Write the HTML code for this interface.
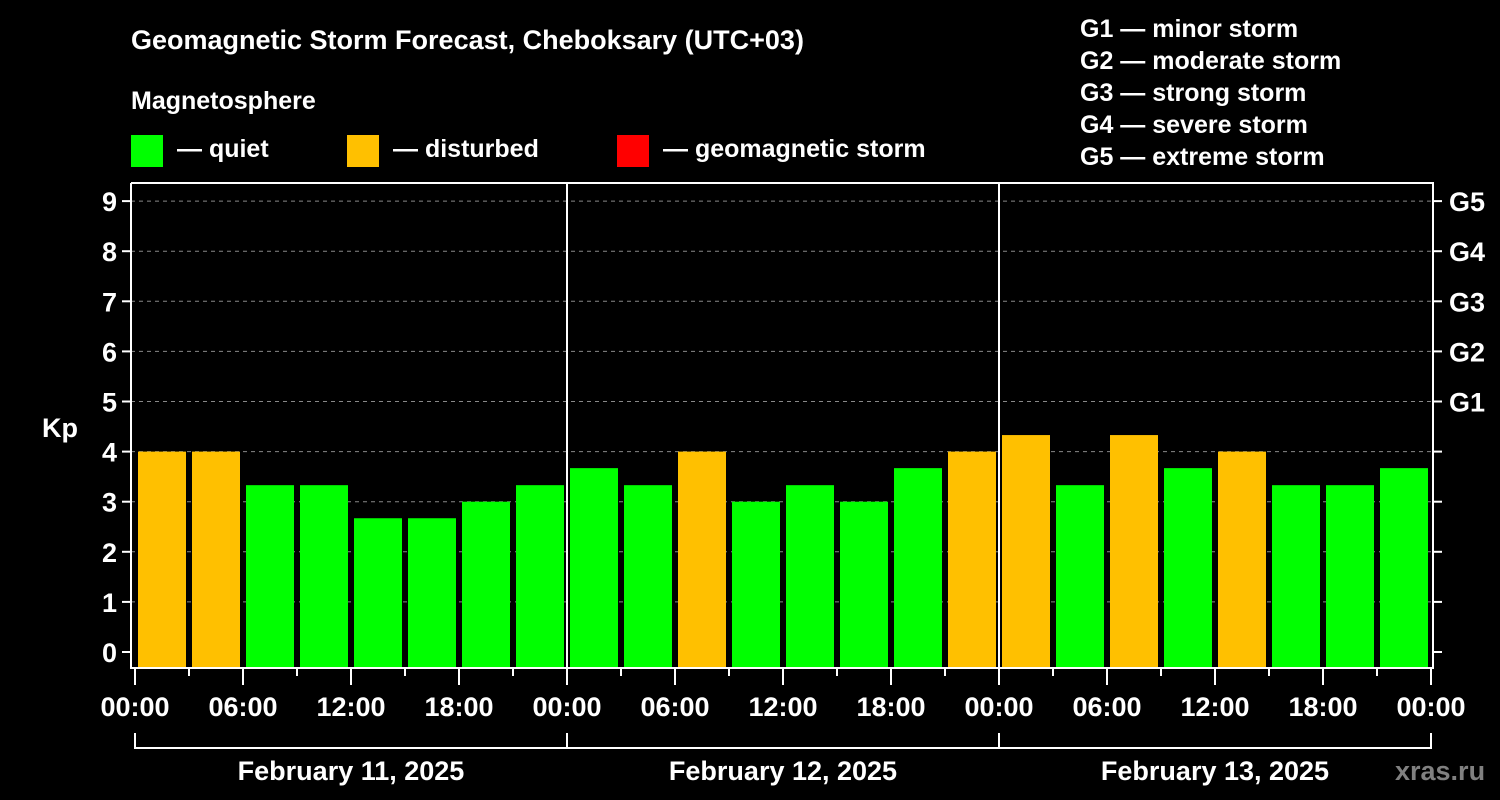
<!DOCTYPE html>
<html><head><meta charset="utf-8"><style>
html,body{margin:0;padding:0;background:#000;width:1500px;height:800px;overflow:hidden}
svg{display:block;font-family:"Liberation Sans",Arial,sans-serif;font-weight:bold}
</style></head><body>
<svg id="chart" width="1500" height="800" viewBox="0 0 1500 800" xmlns="http://www.w3.org/2000/svg">
<rect width="1500" height="800" fill="#000"/>
<text x="131" y="49" fill="#fff" font-size="27">Geomagnetic Storm Forecast, Cheboksary (UTC+03)</text>
<text x="131" y="109" fill="#fff" font-size="25">Magnetosphere</text>
<g><rect x="131" y="135" width="32" height="32" fill="#00ff00"/><text x="177" y="157" fill="#fff" font-size="25">— quiet</text></g>
<g><rect x="347" y="135" width="32" height="32" fill="#ffc000"/><text x="393" y="157" fill="#fff" font-size="25">— disturbed</text></g>
<g><rect x="617" y="135" width="32" height="32" fill="#ff0000"/><text x="663" y="157" fill="#fff" font-size="25">— geomagnetic storm</text></g>
<g fill="#fff" font-size="25">
<text x="1080" y="37">G1 — minor storm</text>
<text x="1080" y="69">G2 — moderate storm</text>
<text x="1080" y="101">G3 — strong storm</text>
<text x="1080" y="133">G4 — severe storm</text>
<text x="1080" y="165">G5 — extreme storm</text>
</g>
<text x="42" y="437" fill="#fff" font-size="27">Kp</text>
<g id="grid"></g><g id="bars"></g><g id="axes"></g>
<text x="1395" y="780" fill="#808080" font-size="27">xras.ru</text>
</svg>
<script>
const days = ["February 11, 2025","February 12, 2025","February 13, 2025"];
const kpValues = [4,4,3.33,3.33,2.67,2.67,3,3.33, 3.67,3.33,4,3,3.33,3,3.67,4, 4.33,3.33,4.33,3.67,4,3.33,3.33,3.67];
const yTicks = [0,1,2,3,4,5,6,7,8,9];
const gLabels = ["G1","G2","G3","G4","G5"];
const hourLabels = ["00:00","06:00","12:00","18:00"];

const NS="http://www.w3.org/2000/svg";
const X0=135,X1=1431,Y0=652,YS=50.1,PT=183,PB=668,PL=131,PR=1433;
const xScale=h=>X0+h*(X1-X0)/(days.length*24);
const yScale=v=>Y0-v*YS;
function mk(tag,attrs,parent){const e=document.createElementNS(NS,tag);for(const k in attrs)e.setAttribute(k,attrs[k]);parent.appendChild(e);return e;}
const grid=document.getElementById('grid'),bars=document.getElementById('bars'),axes=document.getElementById('axes');

yTicks.forEach(v=>{
  const y=yScale(v);
  if(v>0){const g=mk('line',{x1:PL,x2:PR,y1:y,y2:y,stroke:'#888','stroke-width':1,'stroke-dasharray':'4,4'},grid);
  
  }
  mk('line',{x1:PL-9,x2:PL,y1:y,y2:y,stroke:'#fff','stroke-width':2},axes);
  mk('line',{x1:PR,x2:PR+9,y1:y,y2:y,stroke:'#fff','stroke-width':2},axes);
  const t=mk('text',{x:PL-14,y:y+10,fill:'#fff','font-size':27,'text-anchor':'end'},axes);
  t.textContent=v;
  
  
});
gLabels.forEach((g,i)=>{
  const t=mk('text',{x:1449,y:yScale(5+i)+10,fill:'#fff','font-size':27},axes);
  t.textContent=g;
  
  
});
kpValues.forEach((v,i)=>{
  const x=xScale(i*3)+3,w=xScale(3)-X0-6;
  const r=mk('rect',{x:x,y:yScale(v),width:w,height:PB-yScale(v),fill:v>=4.5?'#ff0000':(v>=4?'#ffc000':'#00ff00')},bars);
  
  
});
// frame
mk('polyline',{points:`${PL},${PT} ${PR},${PT} ${PR},${PB} ${PL},${PB} ${PL},${PT}`,fill:'none',stroke:'#fff','stroke-width':2},axes);
for(let d=1;d<days.length;d++){const x=xScale(d*24);mk('line',{x1:x,x2:x,y1:PT,y2:PB,stroke:'#fff','stroke-width':2},axes);}
for(let h=0;h<=days.length*24;h+=3){
  const x=xScale(h),long=h%6===0;
  mk('line',{x1:x,x2:x,y1:PB,y2:long?685:676,stroke:'#fff','stroke-width':2},axes);
  if(long){const t=mk('text',{x:x,y:716,fill:'#fff','font-size':27,'text-anchor':'middle'},axes);
  t.textContent=hourLabels[(h/6)%4];
  
  }
}
mk('line',{x1:X0,x2:X1,y1:748,y2:748,stroke:'#fff','stroke-width':2},axes);
for(let d=0;d<=days.length;d++){const x=xScale(d*24);mk('line',{x1:x,x2:x,y1:733,y2:749,stroke:'#fff','stroke-width':2},axes);}
days.forEach((d,i)=>{
  const t=mk('text',{x:(xScale(i*24)+xScale(i*24+24))/2,y:780,fill:'#fff','font-size':27,'text-anchor':'middle'},axes);
  t.textContent=d;
  
  
});
</script>
</body></html>
